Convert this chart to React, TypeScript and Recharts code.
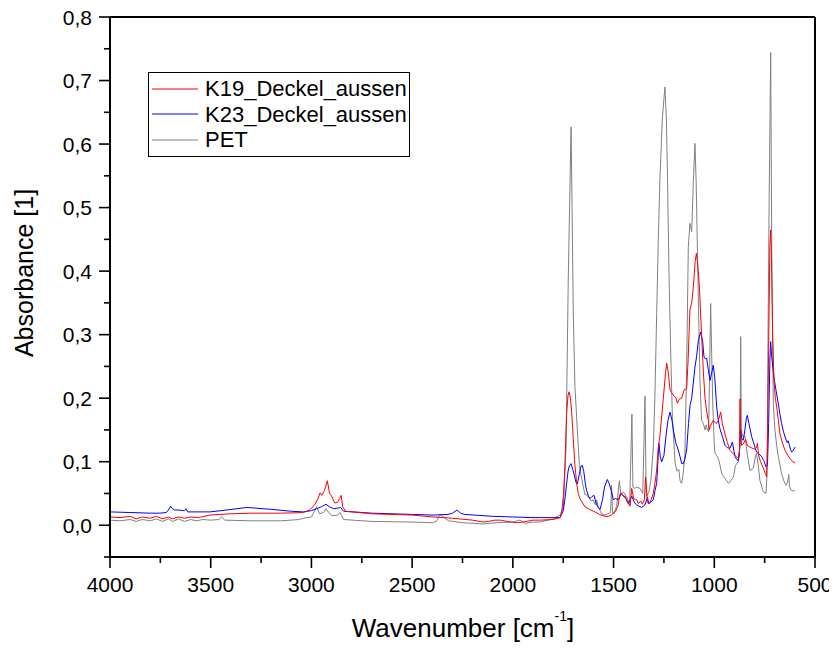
import React from 'react';
import { LineChart, Line, XAxis, YAxis, ReferenceLine, Legend } from 'recharts';

const FONT = '"Liberation Sans", Arial, Helvetica, sans-serif';

// ---- PET (grey) ----
const petWavenumber = [
  4000, 3950, 3900, 3870, 3840, 3800, 3770, 3740, 3710, 3690, 3660, 3630, 3600, 3570, 3540, 3500,
  3460, 3446, 3430, 3300, 3150, 3060, 3040, 3000, 2974, 2960, 2940, 2928, 2900, 2870, 2858, 2840,
  2700, 2500, 2400, 2380, 2362, 2340, 2320, 2250, 2150, 2080, 2000, 1965, 1940, 1900, 1866, 1800,
  1766, 1749, 1736, 1725, 1711, 1706, 1700, 1692, 1683, 1670, 1658, 1642, 1634, 1609, 1601, 1590,
  1584, 1576, 1559, 1543, 1534, 1515, 1510, 1505, 1498, 1485, 1471, 1465, 1450, 1435, 1420, 1409, 1404, 1395,
  1385, 1369, 1355, 1344, 1338, 1325, 1315, 1303, 1295, 1286, 1278, 1270, 1258, 1245, 1238, 1232,
  1225, 1217, 1208, 1195, 1185, 1176, 1170, 1162, 1155, 1146, 1137, 1129, 1121, 1112, 1104, 1096,
  1090, 1084, 1077, 1071, 1063, 1054, 1046, 1040, 1034, 1028, 1023, 1018, 1013, 1008, 1000, 996,
  985, 975, 963, 950, 930, 917, 905, 895, 880, 872, 869, 866, 860, 848, 835, 823,
  806, 795, 790, 782, 773, 757, 743, 737, 735, 728, 720, 714, 707, 699, 690, 682,
  674, 666, 655, 644, 636, 630, 627, 620, 610, 600,
];
const petAbsorbance = [
  0.008, 0.007, 0.009, 0.006, 0.009, 0.007, 0.010, 0.006, 0.010, 0.006, 0.010, 0.006, 0.009, 0.007, 0.009, 0.008,
  0.009, 0.013, 0.008, 0.007, 0.007, 0.009, 0.011, 0.013, 0.029, 0.018, 0.020, 0.026, 0.015, 0.016, 0.020, 0.009,
  0.006, 0.005, 0.004, 0.006, 0.017, 0.012, 0.007, 0.004, 0.002, 0.004, 0.005, 0.008, 0.003, 0.005, 0.005, 0.010,
  0.016, 0.029, 0.123, 0.386, 0.627, 0.500, 0.333, 0.220, 0.168, 0.095, 0.072, 0.048, 0.048, 0.038, 0.040, 0.032,
  0.040, 0.028, 0.018, 0.016, 0.017, 0.020, 0.063, 0.020, 0.018, 0.030, 0.070, 0.050, 0.052, 0.045, 0.032, 0.175, 0.060, 0.058,
  0.060, 0.058, 0.050, 0.203, 0.045, 0.052, 0.070, 0.120, 0.200, 0.333, 0.450, 0.543, 0.640, 0.690, 0.640, 0.543,
  0.400, 0.281, 0.170, 0.099, 0.085, 0.088, 0.070, 0.066, 0.080, 0.110, 0.250, 0.438, 0.475, 0.462, 0.540, 0.601,
  0.540, 0.438, 0.320, 0.228, 0.165, 0.160, 0.150, 0.158, 0.150, 0.147, 0.250, 0.349, 0.270, 0.197, 0.125, 0.113,
  0.108, 0.100, 0.081, 0.075, 0.066, 0.070, 0.076, 0.094, 0.100, 0.130, 0.297, 0.150, 0.140, 0.140, 0.110, 0.086,
  0.090, 0.110, 0.113, 0.095, 0.070, 0.053, 0.050, 0.090, 0.228, 0.500, 0.744, 0.400, 0.190, 0.150, 0.125, 0.108,
  0.095, 0.081, 0.070, 0.063, 0.068, 0.080, 0.062, 0.056, 0.054, 0.055,
];

// ---- K19_Deckel_aussen (red) ----
const k19Wavenumber = [
  4000, 3950, 3900, 3870, 3840, 3800, 3770, 3740, 3710, 3690, 3660, 3630, 3600, 3560, 3504, 3400,
  3300, 3150, 3040, 3010, 2987, 2970, 2957, 2948, 2935, 2921, 2910, 2900, 2885, 2870, 2860, 2852,
  2845, 2830, 2700, 2500, 2396, 2300, 2200, 2148, 2120, 2090, 2060, 2030, 1981, 1950, 1900, 1866,
  1800, 1766, 1758, 1748, 1741, 1733, 1726, 1721, 1714, 1708, 1700, 1692, 1683, 1675, 1667, 1642,
  1620, 1592, 1570, 1543, 1525, 1510, 1501, 1490, 1478, 1468, 1460, 1450, 1443, 1430, 1418, 1410,
  1400, 1385, 1377, 1365, 1357, 1347, 1341, 1333, 1328, 1319, 1303, 1295, 1286, 1278, 1270, 1253,
  1242, 1236, 1228, 1220, 1210, 1203, 1190, 1183, 1175, 1162, 1150, 1137, 1130, 1121, 1112, 1104,
  1095, 1089, 1082, 1074, 1063, 1054, 1046, 1038, 1030, 1025, 1021, 1005, 990, 980, 968, 960,
  947, 935, 922, 905, 890, 880, 875, 872, 869, 865, 856, 845, 835, 823, 810, 798,
  790, 786, 780, 770, 757, 745, 740, 735, 730, 724, 720, 716, 710, 704, 697, 690,
  682, 674, 660, 649, 635, 624, 610, 599,
];
const k19Absorbance = [
  0.013, 0.012, 0.014, 0.010, 0.013, 0.011, 0.014, 0.010, 0.013, 0.010, 0.013, 0.011, 0.013, 0.012, 0.016, 0.018,
  0.019, 0.019, 0.020, 0.024, 0.031, 0.040, 0.051, 0.047, 0.055, 0.070, 0.050, 0.046, 0.035, 0.036, 0.042, 0.047,
  0.029, 0.022, 0.018, 0.016, 0.013, 0.011, 0.008, 0.005, 0.006, 0.008, 0.008, 0.006, 0.004, 0.005, 0.008, 0.008,
  0.009, 0.012, 0.019, 0.050, 0.099, 0.176, 0.205, 0.210, 0.200, 0.178, 0.135, 0.095, 0.065, 0.050, 0.042, 0.029,
  0.025, 0.021, 0.017, 0.014, 0.014, 0.016, 0.020, 0.022, 0.030, 0.050, 0.050, 0.045, 0.046, 0.036, 0.030, 0.058,
  0.042, 0.040, 0.034, 0.038, 0.033, 0.040, 0.076, 0.040, 0.034, 0.035, 0.050, 0.065, 0.087, 0.123, 0.140, 0.200,
  0.240, 0.255, 0.240, 0.213, 0.208, 0.205, 0.200, 0.192, 0.198, 0.200, 0.213, 0.215, 0.260, 0.339, 0.350, 0.375,
  0.415, 0.428, 0.410, 0.375, 0.300, 0.240, 0.200, 0.180, 0.165, 0.150, 0.155, 0.165, 0.160, 0.165, 0.178, 0.160,
  0.144, 0.130, 0.118, 0.112, 0.108, 0.105, 0.110, 0.199, 0.150, 0.126, 0.128, 0.135, 0.125, 0.123, 0.121, 0.120,
  0.122, 0.129, 0.110, 0.100, 0.090, 0.080, 0.076, 0.150, 0.280, 0.440, 0.465, 0.420, 0.300, 0.230, 0.200, 0.186,
  0.165, 0.144, 0.128, 0.118, 0.110, 0.105, 0.100, 0.098,
];

// ---- K23_Deckel_aussen (blue) ----
const k23Wavenumber = [
  4000, 3900, 3800, 3752, 3720, 3710, 3699, 3690, 3680, 3660, 3640, 3630, 3623, 3615, 3504, 3420,
  3321, 3200, 3100, 3040, 3000, 2974, 2950, 2928, 2910, 2890, 2870, 2855, 2840, 2700, 2500, 2396,
  2322, 2300, 2277, 2260, 2240, 2100, 2000, 1900, 1800, 1765, 1749, 1740, 1733, 1726, 1720, 1711,
  1703, 1695, 1687, 1680, 1670, 1662, 1655, 1648, 1640, 1634, 1625, 1617, 1608, 1597, 1588, 1579,
  1567, 1555, 1545, 1531, 1522, 1512, 1501, 1490, 1478, 1460, 1450, 1440, 1427, 1418, 1410, 1400,
  1390, 1385, 1375, 1361, 1352, 1344, 1332, 1325, 1315, 1303, 1294, 1286, 1280, 1275, 1268, 1261,
  1250, 1240, 1230, 1220, 1210, 1203, 1190, 1183, 1170, 1162, 1154, 1145, 1137, 1128, 1120, 1112,
  1096, 1088, 1079, 1068, 1058, 1051, 1045, 1038, 1030, 1021, 1013, 1005, 997, 988, 980, 972,
  960, 947, 935, 922, 910, 903, 897, 887, 881, 874, 869, 863, 856, 848, 840, 836,
  828, 814, 800, 790, 778, 765, 755, 743, 736, 730, 724, 720, 715, 708, 704, 695,
  682, 674, 666, 657, 649, 638, 633, 627, 620, 616, 608, 599,
];
const k23Absorbance = [
  0.021, 0.020, 0.019, 0.019, 0.020, 0.024, 0.030, 0.026, 0.024, 0.024, 0.023, 0.023, 0.026, 0.021, 0.021, 0.024,
  0.028, 0.025, 0.022, 0.021, 0.023, 0.026, 0.029, 0.033, 0.029, 0.026, 0.027, 0.028, 0.022, 0.019, 0.017, 0.016,
  0.017, 0.019, 0.024, 0.019, 0.017, 0.014, 0.013, 0.012, 0.012, 0.012, 0.024, 0.045, 0.066, 0.085, 0.093, 0.097,
  0.088, 0.079, 0.068, 0.065, 0.080, 0.093, 0.094, 0.085, 0.065, 0.055, 0.046, 0.042, 0.045, 0.047, 0.036, 0.029,
  0.025, 0.040, 0.060, 0.072, 0.066, 0.055, 0.040, 0.042, 0.040, 0.050, 0.046, 0.042, 0.034, 0.040, 0.046, 0.038,
  0.033, 0.032, 0.030, 0.028, 0.030, 0.032, 0.044, 0.034, 0.036, 0.040, 0.055, 0.066, 0.100, 0.129, 0.108, 0.100,
  0.110, 0.140, 0.165, 0.178, 0.165, 0.150, 0.128, 0.123, 0.108, 0.097, 0.097, 0.105, 0.120, 0.160, 0.190, 0.200,
  0.249, 0.265, 0.291, 0.304, 0.290, 0.265, 0.262, 0.263, 0.245, 0.228, 0.240, 0.252, 0.230, 0.186, 0.165, 0.152,
  0.140, 0.126, 0.122, 0.121, 0.131, 0.118, 0.108, 0.103, 0.102, 0.120, 0.150, 0.135, 0.134, 0.150, 0.170, 0.173,
  0.160, 0.139, 0.125, 0.115, 0.112, 0.108, 0.102, 0.092, 0.095, 0.160, 0.260, 0.289, 0.265, 0.245, 0.233, 0.215,
  0.191, 0.175, 0.160, 0.148, 0.139, 0.130, 0.133, 0.126, 0.118, 0.115, 0.118, 0.123,
];

const xTicks = [4000, 3750, 3500, 3250, 3000, 2750, 2500, 2250, 2000, 1750, 1500, 1250, 1000, 750, 500];
const yTicks = [-0.05, 0, 0.05, 0.1, 0.15, 0.2, 0.25, 0.3, 0.35, 0.4, 0.45, 0.5, 0.55, 0.6, 0.65, 0.7, 0.75, 0.8];

const toPoints = (wn: number[], abs: number[]) => wn.map((w, i) => ({ wn: w, abs: abs[i] }));

const series = [
  { name: 'K19_Deckel_aussen', color: '#ff0000', data: toPoints(k19Wavenumber, k19Absorbance) },
  { name: 'K23_Deckel_aussen', color: '#0000ff', data: toPoints(k23Wavenumber, k23Absorbance) },
  { name: 'PET', color: '#808080', data: toPoints(petWavenumber, petAbsorbance) },
];
const drawOrder = [2, 1, 0];

const XTick = (props: any) => {
  const { x, y, payload } = props;
  const v = payload.value as number;
  const major = v % 500 === 0;
  return (
    <g>
      <line x1={x} x2={x} y1={y} y2={y + (major ? 11 : 6)} stroke="#000" strokeWidth={1.6} />
      {major && (
        <text x={x} y={y + 35} textAnchor="middle" fontSize={21} fontFamily={FONT} fill="#000">
          {v}
        </text>
      )}
    </g>
  );
};

const YTick = (props: any) => {
  const { x, y, payload } = props;
  const v = payload.value as number;
  const major = Math.abs(Math.round(v * 10) - v * 10) < 1e-6;
  return (
    <g>
      <line x1={x} x2={x - (major ? 11 : 6)} y1={y} y2={y} stroke="#000" strokeWidth={1.6} />
      {major && (
        <text x={x - 18} y={y + 7.5} textAnchor="end" fontSize={21} fontFamily={FONT} fill="#000">
          {v.toFixed(1).replace('.', ',')}
        </text>
      )}
    </g>
  );
};

const XTitle = () => (
  <text x={463} y={637} textAnchor="middle" fontSize={26} fontFamily={FONT} fill="#000">
    Wavenumber [cm
    <tspan dy={-16} fontSize={14}>-1</tspan>
    <tspan dy={16}>]</tspan>
  </text>
);

const YTitle = () => (
  <text
    x={33}
    y={273}
    transform="rotate(-90 33 273)"
    textAnchor="middle"
    fontSize={25}
    fontFamily={FONT}
    fill="#000"
  >
    Absorbance [1]
  </text>
);

const LegendBox = () => (
  <div
    style={{
      width: 262,
      height: 85,
      border: '1px solid #000',
      boxSizing: 'border-box',
      background: '#fff',
      fontFamily: FONT,
      fontSize: 22,
      color: '#000',
      paddingTop: 3,
    }}
  >
    {series.map((s) => (
      <div key={s.name} style={{ display: 'flex', alignItems: 'center', height: 25.5 }}>
        <svg width={56} height={4} style={{ flex: 'none' }}>
          <line x1={3} x2={49} y1={2} y2={2} stroke={s.color} strokeWidth={1} />
        </svg>
        <span style={{ lineHeight: '25px', whiteSpace: 'nowrap' }}>{s.name}</span>
      </div>
    ))}
  </div>
);

export default function App() {
  return (
    <div style={{ width: 837, height: 648, margin: '-8px 0 0 -8px', fontFamily: FONT }}>
      <LineChart width={837} height={648} margin={{ top: 17, right: 22, bottom: 31, left: 50 }}>
        <XAxis
          type="number"
          dataKey="wn"
          domain={[500, 4000]}
          reversed
          ticks={xTicks}
          interval={0}
          tickSize={0}
          tickMargin={0}
          tickLine={false}
          tick={<XTick />}
          axisLine={{ stroke: '#000', strokeWidth: 2 }}
          height={60}
          label={<XTitle />}
        />
        <YAxis
          type="number"
          domain={[-0.05, 0.8]}
          ticks={yTicks}
          interval={0}
          tickSize={0}
          tickMargin={0}
          tickLine={false}
          tick={<YTick />}
          axisLine={{ stroke: '#000', strokeWidth: 2 }}
          width={60}
          label={<YTitle />}
        />
        <ReferenceLine y={0.8} stroke="#000" strokeWidth={2} ifOverflow="visible" />
        <ReferenceLine x={500} stroke="#000" strokeWidth={2} ifOverflow="visible" />
        {drawOrder.map((i) => (
          <Line
            key={series[i].name}
            data={series[i].data}
            dataKey="abs"
            name={series[i].name}
            type="linear"
            stroke={series[i].color}
            strokeWidth={1}
            dot={false}
            activeDot={false}
            isAnimationActive={false}
            legendType="line"
          />
        ))}
        <Legend
          layout="vertical"
          align="center"
          verticalAlign="middle"
          wrapperStyle={{ left: 148, top: 72, width: 262 }}
          content={<LegendBox />}
        />
      </LineChart>
    </div>
  );
}
